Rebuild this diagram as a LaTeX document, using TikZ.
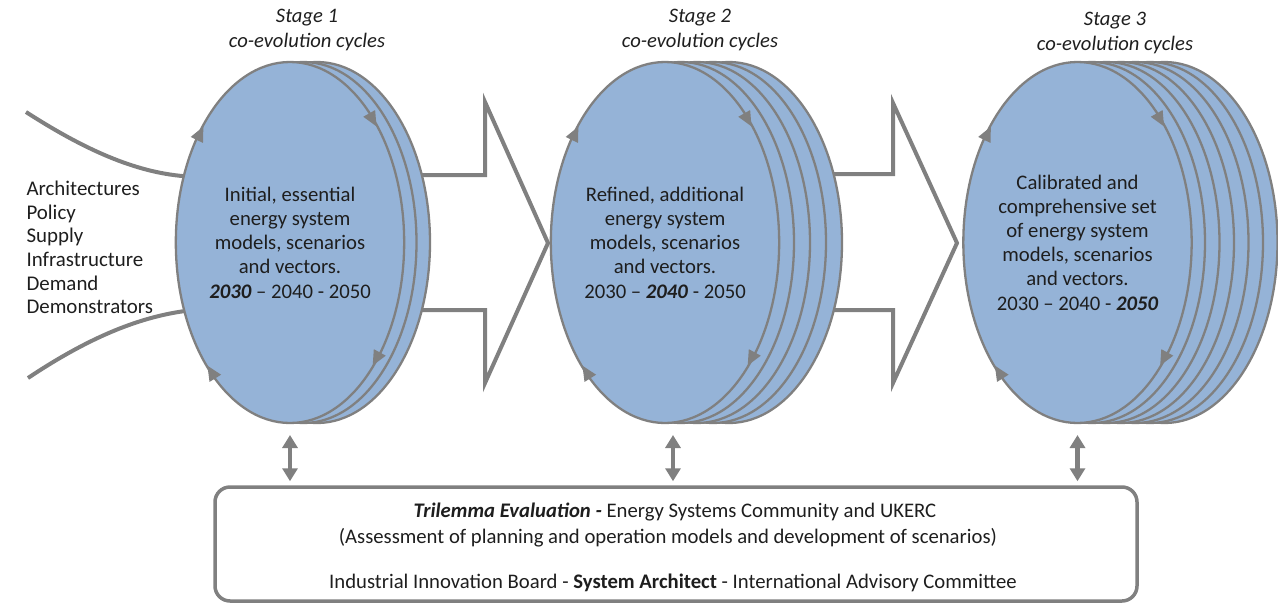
\documentclass[tikz,border=0pt]{standalone}
\usepackage{fontspec}
\setmainfont{Carlito}
\usetikzlibrary{shapes.geometric,arrows.meta}
\definecolor{discblue}{HTML}{95B3D7}
\definecolor{rimgrey}{HTML}{808080}
\definecolor{inkdark}{HTML}{1E1E1E}
\begin{document}
\begin{tikzpicture}[x=1pt,y=-1pt,
  layer/.style={fill=discblue,draw=rimgrey,line width=2.3pt},
  disc/.style={ellipse,fill=discblue,draw=rimgrey,line width=2.3pt,
    minimum width=226pt,minimum height=361pt,inner sep=0pt,outer sep=0pt,
    text=inkdark,align=center,font=\fontsize{20.7}{24.2}\selectfont},
  ringtip/.style={draw=rimgrey,line width=2.3pt,-{Triangle[length=15pt,width=13pt]}},
  blockarrow/.style={fill=white,draw=rimgrey,line width=4pt,line join=miter},
  feedline/.style={draw=rimgrey,line width=4pt},
  twoway/.style={draw=rimgrey,line width=4.5pt,
    {Triangle[length=13pt,width=15pt]}-{Triangle[length=13pt,width=15pt]}},
  panel/.style={draw=rimgrey,line width=3.5pt,rounded corners=15pt,fill=white,
    minimum width=922pt,minimum height=114pt,inner sep=0pt},
  heading/.style={text=inkdark,align=center,font=\fontsize{20.6}{25}\selectfont\itshape},
  plain/.style={text=inkdark,font=\fontsize{20.7}{24}\selectfont}
]
\useasboundingbox (0,0) rectangle (1278,603);

% hollow block arrows between the stages (behind the discs)
\draw[blockarrow] (410,175) -- (485,175) -- (485,102) -- (548,243)
  -- (485,383) -- (485,310) -- (410,310) -- cycle;
\draw[blockarrow] (815,174) -- (893,174) -- (893,103) -- (957,243)
  -- (893,383) -- (893,310) -- (815,310) -- cycle;

% stacked discs: back layers first
\foreach \k in {2,1}
  \draw[layer] (290+\k*13.5,242.5) ellipse [x radius=113pt,y radius=180.5pt];
\foreach \k in {4,3,2,1}
  \draw[layer] (665+\k*16,242.5) ellipse [x radius=113pt,y radius=180.5pt];
\foreach \k in {6,5,4,3,2,1}
  \draw[layer] (1077.5+\k*14.5,242.5) ellipse [x radius=113pt,y radius=180.5pt];

% front discs
\node[disc] (s1) at (290,242.5) {Initial, essential\\energy system\\models, scenarios\\and vectors.\\\textbf{\textit{2030}} – 2040 - 2050};
\node[disc] (s2) at (665,242.5) {Refined, additional\\energy system\\models, scenarios\\and vectors.\\2030 – \textbf{\textit{2040}} - 2050};
\node[disc] (s3) at (1077.5,242.5) {Calibrated and\\comprehensive set\\of energy system\\models, scenarios\\and vectors.\\2030 – 2040 - \textbf{\textit{2050}}};

% clockwise cycle arrowheads on each front disc
\foreach \cx in {290,665,1077.5}
  \foreach \t in {-40,43,137,220}
    \draw[ringtip] ({\cx+113*cos(\t-4)},{242.5+180.5*sin(\t-4)})
      -- ({\cx+113*cos(\t)},{242.5+180.5*sin(\t)});

% stage headings
\node[heading] (h1) at (307,29.5) {Stage 1\\co-evolution cycles};
\node[heading] (h2) at (700,29.5) {Stage 2\\co-evolution cycles};
\node[heading] (h3) at (1115,33) {Stage 3\\co-evolution cycles};

% inputs feeding the first stage
\coordinate (inA) at (26,112);
\coordinate (inB) at (28,378);
\draw[feedline] (inA) .. controls (85,150) and (135,172) .. (s1.148);
\draw[feedline] (inB) .. controls (85,340) and (135,318) .. (s1.213);
\node[plain,align=left,anchor=west,font=\fontsize{20.9}{23.7}\selectfont] (inputs) at (23,247.5)
  {Architectures\\Policy\\Supply\\Infrastructure\\Demand\\Demonstrators};

% evaluation board
\node[panel] (board) at (676,544) {};
\node[plain] (b1) at (675,512) {\textbf{\textit{Trilemma Evaluation -}} Energy Systems Community and UKERC};
\node[plain] (b2) at (668,538) {(Assessment of planning and operation models and development of scenarios)};
\node[plain] (b3) at (673,583) {Industrial Innovation Board - \textbf{System Architect} - International Advisory Committee};

% two-way links between stages and the board
\draw[twoway,shorten <=12pt,shorten >=4pt] (s1.south) -- (s1.south |- board.north);
\draw[twoway,shorten <=12pt,shorten >=4pt] ([xshift=8pt]s2.south) -- ([xshift=8pt]s2.south |- board.north);
\draw[twoway,shorten <=12pt,shorten >=4pt] (s3.south) -- (s3.south |- board.north);
\end{tikzpicture}
\end{document}
